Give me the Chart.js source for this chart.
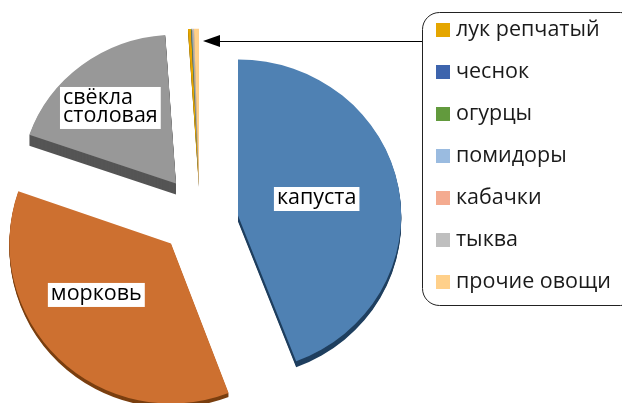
<!DOCTYPE html>
<html>
<head>
<meta charset="utf-8">
<style>
  html, body { margin: 0; padding: 0; background: #fff; }
  #wrap { width: 622px; height: 403px; overflow: hidden; }
</style>
<script src="https://cdn.jsdelivr.net/npm/chart.js@4/dist/chart.umd.min.js"></script>
</head>
<body>
<div id="wrap"><canvas id="pie" width="622" height="403"></canvas></div>
<script>
const categories = ["капуста", "морковь", "свёкла столовая", "лук репчатый", "чеснок", "огурцы", "помидоры", "кабачки", "тыква", "прочие овощи"];
const shares = [44.2, 36.1, 18.6, 0.3, 0.05, 0.05, 0.05, 0.05, 0.1, 0.5];
const sliceColors = ["#4f81b3", "#cd7030", "#989898", "#e5a600", "#3d64ad", "#629a3d", "#9abbe0", "#f4ab90", "#bfbfbf", "#ffd08a"];
const sideColors = ["#1f3f5f", "#7a3f10", "#555555", "#8a6500", "#25406e", "#3b5d25", "#5d7187", "#936757", "#737373", "#9a7d53"];

// how far each slice is pulled away from the pie, and how it is squashed
const explodeX = [47, -20, -15, 8, 8, 8, 8, 8, 8, 8];
const explodeY = [-9, 19, -41, -39, -39, -39, -39, -39, -39, -39];
const scaleX = [1.02, 1.01, 0.97, 1, 1, 1, 1, 1, 1, 1];
const scaleY = [0.975, 1, 0.93, 0.98, 0.98, 0.98, 0.98, 0.98, 0.98, 0.98];
const sideDepth = [6, 4, 11, 2, 2, 2, 2, 2, 2, 2];

const sliceLabels = [
  { index: 0, lines: ["капуста"], dx: 0, dy: -2 },
  { index: 1, lines: ["морковь"], dx: -19, dy: -6 },
  { index: 2, lines: ["свёкла", "столовая"], dx: -17, dy: -12 }
];
const legendFirst = 3;
const fontFamily = '"Open Sans", "Noto Sans", sans-serif';

function placeSlice(ctx, arc, i, lift) {
  ctx.translate(arc.x + explodeX[i], arc.y + explodeY[i] + lift);
  ctx.scale(scaleX[i], scaleY[i]);
  ctx.translate(-arc.x, -arc.y);
}

const explodedPie = {
  id: "explodedPie",
  beforeDatasetDraw(chart) {
    const ctx = chart.ctx;
    const arcs = chart.getDatasetMeta(0).data;
    arcs.forEach((arc, i) => {
      const own = arc.options;
      arc.options = Object.assign({}, own, { backgroundColor: sideColors[i], borderColor: sideColors[i] });
      for (let d = sideDepth[i]; d > 0; d--) {
        ctx.save();
        placeSlice(ctx, arc, i, d);
        arc.draw(ctx);
        ctx.restore();
      }
      arc.options = own;
    });
    arcs.forEach((arc, i) => {
      ctx.save();
      placeSlice(ctx, arc, i, 0);
      arc.draw(ctx);
      ctx.restore();
    });
    return false;
  },
  afterDatasetsDraw(chart) {
    const ctx = chart.ctx;
    const arcs = chart.getDatasetMeta(0).data;
    ctx.save();
    ctx.font = "21.5px " + fontFamily;
    ctx.textBaseline = "middle";

    // labels on the big slices
    sliceLabels.forEach(l => {
      const arc = arcs[l.index];
      const c = arc.getCenterPoint();
      const cx = c.x + explodeX[l.index] + l.dx;
      const cy = c.y + explodeY[l.index] + l.dy;
      const w = Math.max(...l.lines.map(t => ctx.measureText(t).width)) + 6;
      const h = l.lines.length * 18 + 6;
      ctx.fillStyle = "#fff";
      ctx.fillRect(cx - w / 2, cy - h / 2, w, h);
      ctx.fillStyle = "#000";
      ctx.textAlign = "left";
      l.lines.forEach((t, n) => ctx.fillText(t, cx - w / 2 + 3, cy - h / 2 + 11 + n * 18));
    });

    // legend box
    ctx.beginPath();
    ctx.roundRect(422.5, 12.5, 215, 293, 17);
    ctx.fillStyle = "#fff";
    ctx.fill();
    ctx.strokeStyle = "#222";
    ctx.lineWidth = 1;
    ctx.stroke();
    categories.slice(legendFirst).forEach((name, n) => {
      const y = 30 + n * 42;
      ctx.fillStyle = sliceColors[legendFirst + n];
      ctx.fillRect(436, y - 7, 14, 14);
      ctx.fillStyle = "#1a1a1a";
      ctx.fillText(name, 456, y);
    });

    // arrow to the thin slices
    ctx.beginPath();
    ctx.moveTo(422, 41.5);
    ctx.lineTo(218, 41.5);
    ctx.strokeStyle = "#000";
    ctx.stroke();
    ctx.beginPath();
    ctx.moveTo(203, 41);
    ctx.lineTo(220, 35);
    ctx.lineTo(220, 47);
    ctx.closePath();
    ctx.fillStyle = "#000";
    ctx.fill();
    ctx.restore();
  }
};

new Chart(document.getElementById("pie"), {
  type: "pie",
  data: {
    labels: categories,
    datasets: [{ data: shares, backgroundColor: sliceColors, borderWidth: 0 }]
  },
  options: {
    responsive: false,
    animation: false,
    radius: 160,
    layout: { padding: { left: 0, right: 240, top: 46, bottom: 0 } },
    plugins: { legend: { display: false }, tooltip: { enabled: false } }
  },
  plugins: [explodedPie]
});
</script>
</body>
</html>
